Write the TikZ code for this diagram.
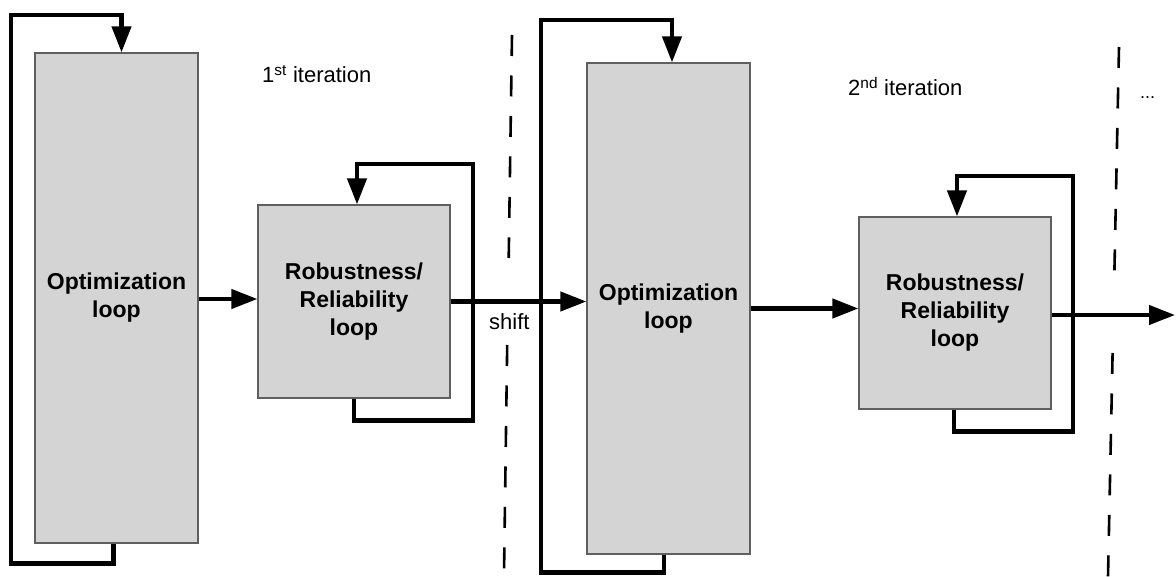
\documentclass[tikz,border=0pt]{standalone}
\usepackage{fontspec}
\setmainfont{Liberation Sans}
\usetikzlibrary{arrows.meta,calc}
\definecolor{boxfill}{RGB}{212,212,212}
\definecolor{boxline}{RGB}{95,95,95}
\begin{document}
\begin{tikzpicture}[x=1pt,y=-1pt,
  loopbox/.style={draw=boxline,line width=1.2pt,fill=boxfill,align=center,inner sep=0pt,
    font=\fontsize{23}{28}\selectfont\bfseries},
  flow/.style={line width=4.3pt,-{Triangle[length=26pt,width=19pt]}},
  sepline/.style={line width=2.6pt,dash pattern=on 21pt off 19.5pt},
  lbl/.style={font=\fontsize{22}{26}\selectfont,inner sep=0pt}]
\useasboundingbox (0,0) rectangle (1176,577);

% boxes
\node[loopbox,minimum width=163pt,minimum height=490pt] (b1) at (116.5,298) {Optimization\\loop};
\node[loopbox,minimum width=192pt,minimum height=193pt] (b2) at (354,301.5) {Robustness/\\Reliability\\loop};
\node[loopbox,minimum width=163pt,minimum height=491pt] (b3) at (668.5,308.5) {Optimization\\loop};
\node[loopbox,minimum width=192pt,minimum height=192pt] (b4) at (955,313) {Robustness/\\Reliability\\loop};

% self loops
\coordinate (l1) at (11,15);
\coordinate (l2) at (473,164);
\coordinate (l3) at (541,20);
\coordinate (l4) at (1073,176);
\draw[flow] ($(b1.south)+(-3,0)$) -- ++(0,20) -| (l1) -| ($(b1.north)+(5,0)$);
\draw[flow] (b2.south) -- ++(0,22) -| (l2) -| ($(b2.north)+(3,0)$);
\draw[flow] ($(b3.south)+(-4.5,0)$) -- ++(0,18) -| (l3) -| ($(b3.north)+(3.5,0)$);
\draw[flow] ($(b4.south)+(-1,0)$) -- ++(0,22) -| (l4) -| ($(b4.north)+(2,0)$);

% forward connectors
\coordinate (out) at (1175,315);
\draw[flow] ($(b1.east)+(0,1)$) -- ($(b1.east -| b2.west)+(0,1)$);
\draw[flow] (b2.east) -- (b2.east -| b3.west);
\draw[flow] (b3.east) -- (b3.east -| b4.west);
\draw[flow] ($(b4.east)+(0,2)$) -- (out);

% iteration separators
\coordinate (s1a) at (512,35);
\coordinate (s1b) at (508.7,258);
\coordinate (s1c) at (507.2,345);
\coordinate (s1d) at (504,574);
\coordinate (s2a) at (1119,47);
\coordinate (s2b) at (1114.4,272);
\coordinate (s2c) at (1112.6,353);
\coordinate (s2d) at (1108,577);
\draw[sepline] (s1a) -- (s1b);
\draw[sepline] (s1c) -- (s1d);
\draw[sepline] (s2a) -- (s2b);
\draw[sepline] (s2c) -- (s2d);

% labels
\node[lbl,anchor=base west] (it1) at (262,83) {1\textsuperscript{st} iteration};
\node[lbl,anchor=base west] (it2) at (848,96) {2\textsuperscript{nd} iteration};
\node[lbl,anchor=base west] (sh) at (489,330) {shift};
\node[lbl,anchor=base west,font=\fontsize{18}{22}\selectfont] (dots) at (1140,99) {...};
\end{tikzpicture}
\end{document}
